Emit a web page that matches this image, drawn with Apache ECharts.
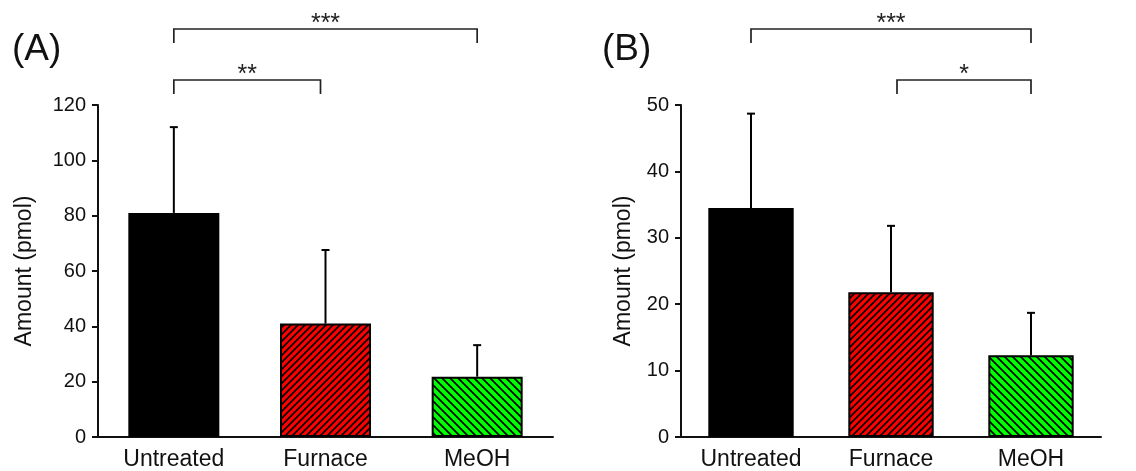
<!DOCTYPE html>
<html>
<head>
<meta charset="utf-8">
<script src="https://cdn.jsdelivr.net/npm/echarts@6/dist/echarts.min.js"></script>
<style>
  html, body { margin: 0; padding: 0; background: #fff; }
  #main { width: 1136px; height: 471px; }
</style>
</head>
<body>
<div id="main"></div>
<script>
// data
var categories = ["Untreated", "Furnace", "MeOH"];
var meanA = [81, 41, 21.8];
var errA = [31, 26.6, 11.4];
var meanB = [34.5, 21.8, 12.3];
var errB = [14.2, 10, 6.4];
var ticksA = [0, 20, 40, 60, 80, 100, 120];
var ticksB = [0, 10, 20, 30, 40, 50];
// significance brackets
var bracketsA = [
  { from: 0, to: 2, label: "***", level: 0 },
  { from: 0, to: 1, label: "**", level: 1 }
];
var bracketsB = [
  { from: 0, to: 2, label: "***", level: 0 },
  { from: 1, to: 2, label: "*", level: 1 }
];

var FONT = "Liberation Sans, Arial, sans-serif";
var INK = "#111";

// hatch tiles
function hatch(bg, size, dir) {
  var c = document.createElement("canvas");
  c.width = size; c.height = size;
  var ctx = c.getContext("2d");
  ctx.fillStyle = bg;
  ctx.fillRect(0, 0, size, size);
  ctx.strokeStyle = "#000";
  ctx.lineWidth = 1.7;
  ctx.beginPath();
  if (dir === "up") {
    ctx.moveTo(0, size); ctx.lineTo(size, 0);
    ctx.moveTo(-2, 2); ctx.lineTo(2, -2);
    ctx.moveTo(size - 2, size + 2); ctx.lineTo(size + 2, size - 2);
  } else {
    ctx.moveTo(0, 0); ctx.lineTo(size, size);
    ctx.moveTo(-2, size - 2); ctx.lineTo(2, size + 2);
    ctx.moveTo(size - 2, -2); ctx.lineTo(size + 2, 2);
  }
  ctx.stroke();
  return c;
}
var fills = [
  "#000000",
  { image: hatch("#ff0000", 7, "up"), repeat: "repeat" },
  { image: hatch("#00ff00", 8, "down"), repeat: "repeat" }
];

function barData(vals) {
  return vals.map(function (v, i) {
    return { value: v, itemStyle: { color: fills[i] } };
  });
}
function errData(vals, errs) {
  return vals.map(function (v, i) { return [i, v, v + errs[i]]; });
}

function renderErr(params, api) {
  var lo = api.coord([api.value(0), api.value(1)]);
  var hi = api.coord([api.value(0), api.value(2)]);
  var cap = 4;
  var st = { stroke: "#000", lineWidth: 2 };
  return {
    type: "group",
    children: [
      { type: "line", shape: { x1: lo[0], y1: lo[1], x2: hi[0], y2: hi[1] }, style: st },
      { type: "line", shape: { x1: hi[0] - cap, y1: hi[1], x2: hi[0] + cap, y2: hi[1] }, style: st }
    ]
  };
}

function xAxisCfg(grid) {
  return {
    type: "category",
    gridIndex: grid,
    data: categories,
    axisLine: { lineStyle: { color: INK, width: 2 } },
    axisTick: { alignWithLabel: true, length: 7, lineStyle: { color: INK, width: 2 } },
    axisLabel: { color: INK, fontSize: 23, fontFamily: FONT, margin: 11 }
  };
}
function yAxisCfg(grid, ticks, gap) {
  return {
    type: "value",
    gridIndex: grid,
    min: ticks[0],
    max: ticks[ticks.length - 1],
    interval: ticks[1] - ticks[0],
    name: "Amount (pmol)",
    nameLocation: "middle",
    nameGap: gap,
    nameTextStyle: { color: INK, fontSize: 23, fontFamily: FONT },
    splitLine: { show: false },
    axisLine: { show: true, lineStyle: { color: INK, width: 2 } },
    axisTick: { show: true, length: 6, lineStyle: { color: INK, width: 2 } },
    axisLabel: { color: INK, fontSize: 20, fontFamily: FONT, margin: 12 }
  };
}

var chart = echarts.init(document.getElementById("main"));
var option = {
  animation: false,
  backgroundColor: "#fff",
  grid: [
    { left: 98, right: 583, top: 105, bottom: 31 },
    { left: 681, right: 35, top: 105, bottom: 32 }
  ],
  xAxis: [xAxisCfg(0), xAxisCfg(1)],
  yAxis: [yAxisCfg(0, ticksA, 62), yAxisCfg(1, ticksB, 46)],
  series: [
    {
      type: "bar", xAxisIndex: 0, yAxisIndex: 0, barWidth: "60%",
      data: barData(meanA),
      itemStyle: { borderColor: "#000", borderWidth: 2 }
    },
    {
      type: "bar", xAxisIndex: 1, yAxisIndex: 1, barWidth: "61%",
      data: barData(meanB),
      itemStyle: { borderColor: "#000", borderWidth: 2 }
    },
    {
      type: "custom", xAxisIndex: 0, yAxisIndex: 0, z: 1,
      renderItem: renderErr, data: errData(meanA, errA)
    },
    {
      type: "custom", xAxisIndex: 1, yAxisIndex: 1, z: 1,
      renderItem: renderErr, data: errData(meanB, errB)
    }
  ]
};
chart.setOption(option);

// brackets and panel letters
var levelY = [29, 80];
var legLen = 14;
// small horizontal nudges of the short brackets seen in the figure
var nudge = { "0-1": [0, -5], "1-1": [6, 0] };
function bracketEls(list, axisIdx) {
  var els = [];
  list.forEach(function (b) {
    var x1 = chart.convertToPixel({ xAxisIndex: axisIdx }, b.from);
    var x2 = chart.convertToPixel({ xAxisIndex: axisIdx }, b.to);
    var n = nudge[axisIdx + "-" + b.level] || [0, 0];
    x1 += n[0]; x2 += n[1];
    var y = levelY[b.level];
    els.push({
      type: "polyline",
      shape: { points: [[x1, y + legLen], [x1, y], [x2, y], [x2, y + legLen]] },
      style: { stroke: "#222", lineWidth: 1.7, fill: null }
    });
    els.push({
      type: "text",
      x: (x1 + x2) / 2, y: y + 8,
      style: { text: b.label, fill: "#222", fontSize: 25, fontFamily: FONT, align: "center", verticalAlign: "bottom" }
    });
  });
  return els;
}
var graphics = bracketEls(bracketsA, 0).concat(bracketEls(bracketsB, 1));
graphics.push({ type: "text", left: 12, top: 31, style: { text: "(A)", fill: INK, fontSize: 37, fontFamily: FONT } });
graphics.push({ type: "text", left: 602, top: 31, style: { text: "(B)", fill: INK, fontSize: 37, fontFamily: FONT } });
chart.setOption({ graphic: graphics });
</script>
</body>
</html>
